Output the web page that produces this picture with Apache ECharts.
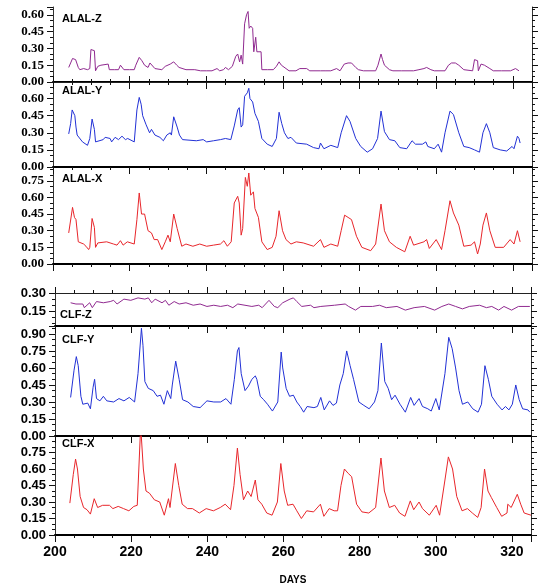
<!DOCTYPE html>
<html>
<head>
<meta charset="utf-8">
<script src="https://cdn.jsdelivr.net/npm/echarts@6/dist/echarts.min.js"></script>
<style>
  html, body { margin: 0; padding: 0; background: #fff; }
  #chart { width: 541px; height: 586px; }
</style>
</head>
<body>
<div id="chart"></div>
<script>
// x range (days)
const dayMin = 200, dayMax = 325, dayStep = 20;

// [day, value]
const alalZ = [[204.1,0.13],[204.6,0.17],[205.1,0.21],[205.9,0.20],[206.6,0.13],[207.0,0.11],[208.0,0.12],[209.0,0.11],[209.6,0.12],[209.9,0.29],[210.8,0.28],[211.1,0.10],[211.7,0.14],[212.5,0.15],[214.4,0.16],[214.7,0.11],[216.0,0.11],[217.1,0.11],[217.6,0.15],[218.5,0.11],[220.0,0.11],[221.2,0.11],[221.6,0.15],[222.5,0.22],[223.2,0.19],[223.9,0.15],[224.8,0.13],[225.3,0.17],[225.7,0.16],[226.6,0.12],[228.4,0.11],[229.3,0.14],[229.7,0.13],[230.6,0.16],[231.5,0.18],[232.3,0.15],[232.9,0.13],[234.7,0.11],[237.0,0.11],[238.5,0.10],[240.0,0.10],[241.5,0.10],[242.8,0.12],[243.5,0.10],[244.5,0.11],[245.0,0.13],[245.8,0.11],[246.8,0.14],[247.3,0.15],[247.7,0.23],[248.2,0.25],[248.7,0.18],[249.1,0.24],[249.5,0.16],[250.0,0.52],[250.5,0.60],[250.9,0.63],[251.2,0.48],[251.6,0.50],[252.1,0.48],[252.4,0.27],[252.9,0.40],[253.2,0.27],[253.6,0.28],[254.3,0.27],[254.5,0.11],[256.0,0.11],[257.5,0.11],[258.3,0.14],[259.0,0.18],[259.6,0.15],[260.8,0.12],[261.6,0.10],[263.4,0.10],[264.4,0.12],[266.2,0.12],[267.0,0.10],[269.8,0.10],[270.3,0.11],[271.0,0.10],[272.5,0.10],[274.0,0.12],[274.9,0.10],[276.0,0.16],[277.0,0.17],[277.9,0.17],[279.0,0.13],[279.7,0.11],[281.0,0.10],[284.2,0.10],[284.8,0.15],[285.6,0.25],[286.0,0.20],[286.5,0.15],[287.8,0.11],[288.7,0.10],[291.0,0.10],[294.1,0.10],[295.5,0.11],[296.8,0.12],[297.5,0.13],[298.6,0.11],[299.5,0.10],[302.3,0.10],[303.2,0.15],[304.0,0.17],[305.0,0.17],[305.9,0.15],[307.2,0.11],[309.5,0.10],[309.9,0.10],[310.0,0.20],[310.8,0.19],[311.0,0.10],[311.7,0.16],[312.6,0.15],[314.0,0.12],[314.9,0.10],[317.0,0.10],[319.4,0.10],[320.7,0.12],[321.6,0.10]];

const alalY = [[204.1,0.29],[204.6,0.38],[205.0,0.50],[205.7,0.45],[206.0,0.35],[206.3,0.28],[207.7,0.22],[209.0,0.19],[209.6,0.25],[210.2,0.42],[210.8,0.33],[211.1,0.22],[213.1,0.24],[213.6,0.26],[214.9,0.25],[215.3,0.22],[216.2,0.26],[217.1,0.24],[218.0,0.27],[218.9,0.24],[219.5,0.25],[221.2,0.22],[221.9,0.50],[222.5,0.61],[223.0,0.55],[223.4,0.45],[224.3,0.37],[225.2,0.30],[225.7,0.33],[226.6,0.28],[227.9,0.26],[228.8,0.23],[229.7,0.28],[230.6,0.30],[230.9,0.28],[231.5,0.44],[232.4,0.35],[233.0,0.28],[233.8,0.24],[237.4,0.23],[239.2,0.24],[240.1,0.22],[241.9,0.23],[243.7,0.24],[245.0,0.25],[246.4,0.24],[247.3,0.36],[248.2,0.50],[248.6,0.52],[249.1,0.35],[249.5,0.37],[250.0,0.62],[250.7,0.65],[251.1,0.69],[251.4,0.60],[252.1,0.57],[252.7,0.47],[253.6,0.40],[254.5,0.25],[255.9,0.20],[257.2,0.18],[258.3,0.25],[259.0,0.48],[259.7,0.38],[260.4,0.30],[261.3,0.25],[262.1,0.26],[263.5,0.21],[266.2,0.20],[268.0,0.17],[269.4,0.16],[269.8,0.21],[270.7,0.16],[272.5,0.19],[274.3,0.17],[275.2,0.30],[276.6,0.45],[277.5,0.40],[279.0,0.25],[280.3,0.18],[282.0,0.13],[283.4,0.16],[284.7,0.25],[285.6,0.49],[286.5,0.31],[287.8,0.24],[289.2,0.23],[290.5,0.17],[292.3,0.16],[293.7,0.23],[294.6,0.20],[296.4,0.20],[297.3,0.22],[297.8,0.18],[299.5,0.16],[300.5,0.20],[301.4,0.13],[302.3,0.30],[303.6,0.49],[304.5,0.46],[305.9,0.30],[307.2,0.18],[308.6,0.17],[310.0,0.15],[311.3,0.13],[312.2,0.30],[313.1,0.38],[314.0,0.30],[314.9,0.17],[316.7,0.15],[318.4,0.14],[319.8,0.18],[320.3,0.16],[321.2,0.27],[321.6,0.25],[321.9,0.21]];

const alalX = [[204.1,0.28],[205.1,0.51],[205.6,0.42],[206.0,0.40],[206.6,0.20],[208.0,0.18],[208.6,0.16],[209.3,0.13],[209.6,0.15],[210.2,0.41],[210.8,0.33],[211.1,0.15],[211.7,0.19],[214.0,0.20],[215.8,0.18],[216.7,0.17],[217.6,0.21],[218.3,0.17],[219.4,0.20],[221.2,0.18],[221.9,0.40],[222.5,0.64],[223.1,0.45],[223.9,0.45],[224.8,0.30],[225.7,0.28],[226.4,0.22],[227.3,0.22],[228.4,0.13],[229.3,0.20],[230.0,0.26],[230.6,0.20],[231.5,0.45],[232.4,0.32],[233.6,0.16],[234.7,0.18],[236.5,0.16],[238.3,0.18],[240.1,0.16],[241.9,0.17],[243.7,0.18],[244.6,0.21],[245.5,0.16],[246.5,0.20],[247.3,0.55],[248.2,0.61],[248.6,0.55],[249.1,0.26],[249.5,0.32],[250.2,0.78],[250.7,0.70],[251.1,0.82],[251.6,0.62],[252.3,0.65],[252.7,0.50],[253.6,0.42],[254.5,0.20],[255.9,0.13],[257.2,0.15],[258.2,0.25],[259.0,0.48],[259.9,0.30],[260.8,0.22],[262.1,0.18],[263.5,0.20],[265.3,0.19],[268.0,0.16],[269.8,0.22],[270.7,0.15],[272.5,0.18],[274.3,0.16],[275.2,0.30],[276.1,0.44],[277.0,0.42],[277.9,0.40],[279.2,0.25],[280.6,0.15],[282.9,0.12],[284.2,0.18],[285.6,0.54],[286.5,0.30],[287.8,0.20],[289.6,0.15],[291.8,0.11],[293.2,0.25],[294.1,0.17],[296.8,0.20],[297.5,0.22],[298.2,0.14],[300.0,0.22],[301.4,0.13],[302.3,0.30],[303.6,0.57],[304.5,0.46],[305.9,0.35],[307.2,0.16],[309.1,0.17],[310.0,0.20],[310.8,0.09],[311.5,0.18],[312.2,0.35],[313.1,0.46],[314.0,0.30],[315.4,0.15],[317.6,0.15],[319.3,0.22],[320.3,0.18],[321.2,0.30],[321.9,0.20]];

const clfZ = [[204.1,0.22],[205.5,0.21],[207.3,0.21],[207.7,0.18],[209.1,0.22],[209.8,0.18],[210.9,0.23],[212.7,0.22],[214.5,0.23],[215.4,0.24],[216.3,0.21],[218.1,0.25],[219.9,0.24],[221.8,0.26],[223.6,0.25],[224.5,0.26],[225.4,0.22],[226.3,0.25],[228.1,0.22],[229.0,0.24],[229.9,0.20],[231.3,0.23],[232.6,0.21],[234.4,0.22],[236.3,0.20],[238.1,0.21],[239.9,0.19],[241.7,0.20],[243.5,0.19],[245.3,0.20],[246.7,0.18],[248.0,0.21],[251.7,0.19],[253.5,0.20],[254.4,0.18],[256.2,0.24],[257.6,0.19],[258.5,0.18],[259.8,0.22],[261.7,0.25],[262.6,0.26],[263.5,0.23],[264.8,0.19],[267.1,0.20],[268.0,0.18],[269.8,0.19],[273.4,0.20],[276.2,0.21],[277.1,0.19],[278.9,0.16],[280.3,0.19],[283.4,0.19],[285.2,0.20],[287.0,0.18],[289.8,0.19],[292.0,0.16],[294.3,0.18],[297.0,0.19],[299.7,0.16],[301.6,0.19],[303.4,0.21],[305.2,0.19],[307.0,0.17],[308.8,0.19],[311.5,0.20],[313.3,0.18],[314.7,0.19],[316.5,0.16],[317.9,0.19],[319.9,0.16],[321.7,0.19],[324.7,0.19]];

const clfY = [[204.1,0.34],[205.0,0.58],[205.6,0.70],[206.1,0.62],[206.8,0.35],[207.3,0.28],[208.6,0.29],[209.3,0.24],[210.0,0.43],[210.4,0.50],[210.9,0.33],[211.8,0.31],[212.7,0.35],[213.6,0.31],[215.4,0.30],[216.8,0.33],[218.1,0.31],[219.5,0.34],[220.9,0.30],[221.8,0.55],[222.7,0.95],[223.1,0.80],[223.6,0.48],[224.5,0.42],[225.8,0.40],[226.8,0.35],[227.7,0.36],[228.6,0.28],[229.5,0.40],[230.4,0.33],[230.8,0.45],[231.7,0.66],[232.6,0.50],[233.5,0.32],[234.9,0.30],[236.3,0.26],[238.1,0.25],[239.9,0.31],[241.7,0.30],[243.5,0.30],[244.9,0.33],[246.2,0.28],[247.1,0.50],[247.9,0.75],[248.3,0.78],[248.9,0.55],[249.9,0.40],[250.8,0.44],[251.7,0.50],[252.6,0.53],[253.0,0.50],[253.9,0.35],[254.8,0.32],[255.8,0.28],[257.1,0.22],[258.5,0.30],[259.4,0.74],[259.8,0.60],[260.7,0.42],[261.6,0.35],[262.6,0.36],[263.5,0.30],[264.4,0.26],[265.3,0.21],[266.2,0.26],[268.0,0.25],[268.9,0.26],[269.8,0.34],[270.7,0.23],[272.1,0.31],[273.0,0.27],[273.9,0.29],[274.8,0.45],[275.7,0.55],[276.6,0.75],[277.5,0.62],[278.4,0.50],[279.8,0.30],[281.1,0.27],[282.5,0.24],[283.9,0.30],[284.8,0.40],[285.7,0.82],[286.6,0.48],[287.5,0.42],[288.4,0.32],[289.3,0.36],[290.6,0.28],[292.0,0.21],[293.4,0.34],[294.3,0.27],[295.6,0.33],[296.5,0.26],[297.9,0.24],[298.8,0.22],[300.0,0.33],[300.9,0.23],[302.4,0.55],[303.4,0.87],[304.3,0.77],[305.2,0.60],[306.1,0.40],[307.0,0.28],[308.4,0.30],[309.7,0.24],[311.1,0.21],[312.0,0.28],[312.9,0.62],[313.8,0.50],[314.7,0.35],[316.1,0.28],[317.4,0.23],[318.3,0.26],[319.2,0.23],[320.1,0.28],[321.0,0.45],[321.9,0.32],[322.8,0.24],[324.2,0.23],[324.7,0.21]];

const clfX = [[203.9,0.29],[204.4,0.30],[204.8,0.55],[205.4,0.69],[205.9,0.60],[206.6,0.35],[207.5,0.25],[208.4,0.23],[209.3,0.19],[210.3,0.33],[211.2,0.25],[212.5,0.27],[214.3,0.27],[215.2,0.24],[216.6,0.26],[218.0,0.24],[219.4,0.22],[220.7,0.26],[221.6,0.27],[222.5,0.99],[223.2,0.60],[223.9,0.40],[224.8,0.38],[226.1,0.32],[227.5,0.30],[228.7,0.18],[229.8,0.33],[230.2,0.25],[231.6,0.65],[232.5,0.45],[233.4,0.28],[234.8,0.24],[236.1,0.24],[237.9,0.20],[239.7,0.24],[241.6,0.22],[243.4,0.25],[244.7,0.28],[246.1,0.23],[247.0,0.45],[247.9,0.79],[248.6,0.55],[249.5,0.32],[250.6,0.40],[251.5,0.35],[252.6,0.50],[253.3,0.32],[254.3,0.28],[255.6,0.20],[257.0,0.18],[258.4,0.30],[259.3,0.65],[260.2,0.40],[261.1,0.27],[262.5,0.28],[263.5,0.22],[264.7,0.15],[266.1,0.22],[267.9,0.21],[269.7,0.28],[270.6,0.17],[272.0,0.24],[273.3,0.22],[274.2,0.22],[275.1,0.45],[276.0,0.60],[277.0,0.56],[277.9,0.53],[279.2,0.28],[280.6,0.21],[282.4,0.20],[284.2,0.25],[285.6,0.70],[286.5,0.40],[287.8,0.25],[289.2,0.27],[290.5,0.20],[291.9,0.17],[293.3,0.31],[294.2,0.23],[295.6,0.30],[296.5,0.24],[298.3,0.18],[300.1,0.27],[301.0,0.18],[302.4,0.50],[303.3,0.71],[304.4,0.60],[305.5,0.35],[306.9,0.22],[308.3,0.24],[309.6,0.20],[311.0,0.16],[311.9,0.25],[312.8,0.60],[313.7,0.40],[314.6,0.34],[316.0,0.25],[317.3,0.17],[318.7,0.20],[318.9,0.28],[319.8,0.25],[321.4,0.37],[322.3,0.28],[323.2,0.20],[325.0,0.18]];

const panelNames = ['ALAL-Z', 'ALAL-Y', 'ALAL-X', 'CLF-Z', 'CLF-Y', 'CLF-X'];
const panelData = [alalZ, alalY, alalX, clfZ, clfY, clfX];
const yMin = [0, 0, 0, 0.03, 0, 0];
const yMax = [0.67, 0.745, 0.874, 0.30, 0.97, 0.90];
const yStep = 0.15;
const clfZLabels = [0.15, 0.30];
const clfZMinor = [0.05, 0.10, 0.20, 0.25];

// layout
const purple = '#902a90', blue = '#2231d6', red = '#e8262b';
const colors = [purple, blue, red, purple, blue, red];
const boxes = [
  { left: 53, right: 9, top: 7, height: 75 },
  { left: 53, right: 9, top: 82, height: 85 },
  { left: 53, right: 9, top: 167, height: 97 },
  { left: 55, right: 10, top: 293, height: 33 },
  { left: 55, right: 10, top: 326, height: 110 },
  { left: 55, right: 10, top: 436, height: 101 }
];
const labelPos = [[62, 13], [62, 85], [62, 173], [60, 309], [62, 334], [62, 438]];

const ink = '#111';
const fmt = v => v.toFixed(2);

let grids = [], xAxes = [], yAxes = [], series = [], titles = [];

boxes.forEach((b, i) => {
  grids.push(Object.assign({ containLabel: false }, b));
  const last = i === 5;
  const sans = i >= 3;
  // bottom x axis
  xAxes.push({
    type: 'value', gridIndex: i, position: 'bottom',
    min: dayMin, max: dayMax, interval: dayStep,
    axisLine: { show: true, lineStyle: { color: '#000', width: 2 } },
    axisTick: { show: true, inside: false, length: 7, lineStyle: { color: ink, width: 1 } },
    minorTick: { show: true, splitNumber: 4, length: 3, lineStyle: { color: ink, width: 1 } },
    splitLine: { show: false },
    axisLabel: {
      show: last, showMaxLabel: false, margin: 10,
      fontFamily: 'Liberation Sans', fontWeight: 'bold', fontSize: 14, color: '#000'
    },
    name: last ? 'DAYS' : '', nameLocation: 'middle', nameGap: 40,
    nameTextStyle: { fontFamily: 'Liberation Sans', fontWeight: 'bold', fontSize: 10, color: '#000' }
  });
  const yFont = {
    fontFamily: sans ? 'Liberation Sans' : 'Liberation Serif',
    fontWeight: 'bold', fontSize: 13, color: '#000'
  };
  const isClfZ = i === 3;
  const left = {
    type: 'value', gridIndex: i, position: 'left',
    min: yMin[i], max: yMax[i],
    axisLine: { show: true, lineStyle: { color: '#333', width: 1 } },
    axisTick: { show: true, inside: false, length: 6, lineStyle: { color: ink } },
    splitLine: { show: false },
    axisLabel: Object.assign({ margin: 9, formatter: fmt, showMaxLabel: isClfZ }, yFont)
  };
  const right = {
    type: 'value', gridIndex: i, position: 'right',
    min: yMin[i], max: yMax[i],
    axisLine: { show: true, lineStyle: { color: '#333', width: 1 } },
    axisTick: { show: true, inside: false, length: 6, lineStyle: { color: ink } },
    splitLine: { show: false },
    axisLabel: { show: false }
  };
  if (isClfZ) {
    left.axisLabel.customValues = clfZLabels;
    left.axisTick.customValues = clfZLabels;
    right.axisTick.customValues = clfZLabels;
  } else {
    left.interval = yStep;
    right.interval = yStep;
    left.minorTick = { show: true, splitNumber: 3, length: 3, lineStyle: { color: ink } };
    right.minorTick = { show: true, splitNumber: 3, length: 3, lineStyle: { color: ink } };
  }
  yAxes.push(left, right);

  series.push({
    type: 'line', data: panelData[i],
    xAxisIndex: i, yAxisIndex: 2 * i,
    symbol: 'none', showSymbol: false, clip: true,
    lineStyle: { color: colors[i], width: 1 },
    itemStyle: { color: colors[i] }
  });

  titles.push({
    text: panelNames[i], left: labelPos[i][0], top: labelPos[i][1], padding: 0,
    textStyle: { fontFamily: 'Liberation Sans', fontWeight: 'bold', fontSize: 11, color: '#000' }
  });
});

// top edge of each group gets its own x ticks pointing up
[0, 3].forEach(i => {
  xAxes.push({
    type: 'value', gridIndex: i, position: 'top',
    min: dayMin, max: dayMax, interval: dayStep,
    axisLine: { show: true, lineStyle: { color: '#222', width: 1.2 } },
    axisTick: { show: true, inside: false, length: 6, lineStyle: { color: ink } },
    minorTick: { show: true, splitNumber: 4, length: 3, lineStyle: { color: ink } },
    splitLine: { show: false },
    axisLabel: { show: false }
  });
});

// minor ticks for the short CLF-Z panel
['left', 'right'].forEach(pos => {
  yAxes.push({
    type: 'value', gridIndex: 3, position: pos,
    min: yMin[3], max: yMax[3],
    axisLine: { show: false },
    axisTick: { show: true, inside: false, length: 3, customValues: clfZMinor, lineStyle: { color: ink } },
    splitLine: { show: false },
    axisLabel: { show: false }
  });
});

const chart = echarts.init(document.getElementById('chart'), null, { renderer: 'canvas' });
chart.setOption({
  animation: false,
  backgroundColor: '#fff',
  title: titles,
  grid: grids,
  xAxis: xAxes,
  yAxis: yAxes,
  series: series
});
</script>
</body>
</html>
